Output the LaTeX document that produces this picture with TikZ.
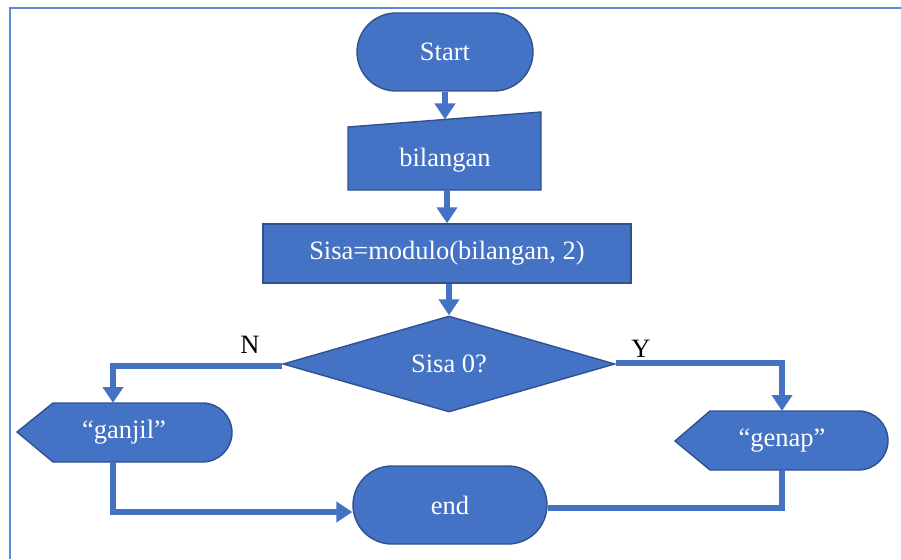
\documentclass[tikz,border=0pt]{standalone}
\usepackage{fontspec}
\setmainfont{Liberation Serif}
\usetikzlibrary{arrows.meta,shapes.misc,shapes.geometric}
\definecolor{flowfill}{HTML}{4472C4}
\definecolor{flowedge}{HTML}{2F528F}
\definecolor{framecol}{HTML}{5B8BD2}
\begin{document}
\begin{tikzpicture}[x=1pt,y=1pt,
  shapeline/.style={draw=flowedge,line width=1.4pt,fill=flowfill},
  txt/.style={text=white,font=\fontsize{26.5}{30}\selectfont,inner sep=0pt},
  lbl/.style={text=black,font=\fontsize{26.5}{30}\selectfont,inner sep=0pt},
  terminal/.style={shapeline,rounded rectangle,inner sep=0pt,txt},
  flow/.style={draw=flowfill,line width=5.5pt},
  flowarrow/.style={flow,-{Triangle[width=20pt,length=16pt]}}]
\useasboundingbox (0,0) rectangle (901,-559);
% page frame
\draw[framecol,line width=2.5pt] (10,-559) -- (10,-8) -- (901,-8);

% start terminal
\node[terminal,minimum width=176pt,minimum height=78pt] (start) at (445,-52) {Start};

% manual input
\draw[shapeline] (348,-127) -- (541,-112) -- (541,-190) -- (348,-190) -- cycle;
\node[txt] (bil) at (445,-160) {bilangan};
\coordinate (bil-top) at (445,-119.5);
\coordinate (bil-bot) at (447,-190);

% process
\node[shapeline,rectangle,minimum width=368pt,minimum height=59pt,txt] (proc) at (447,-253.5) {Sisa=modulo(bilangan, 2)};

% decision
\node[shapeline,diamond,aspect=3.46,minimum width=332pt,minimum height=96pt,txt] (dec) at (449,-364) {Sisa 0?};

% display: ganjil
\draw[shapeline] (17,-432) -- (53,-403) -- (202.5,-403) arc[start angle=90,end angle=-90,radius=29.5] -- (53,-462) -- cycle;
\node[txt] (ganjil) at (124,-432) {“ganjil”};
\coordinate (gj-top) at (113,-403);
\coordinate (gj-bot) at (113,-462);

% display: genap
\draw[shapeline] (675,-441) -- (710,-411) -- (858.5,-411) arc[start angle=90,end angle=-90,radius=29.5] -- (710,-470) -- cycle;
\node[txt] (genap) at (782,-441) {“genap”};
\coordinate (gn-top) at (782,-411);
\coordinate (gn-bot) at (782,-470);

% end terminal
\node[terminal,minimum width=194pt,minimum height=78pt] (end) at (450,-505) {end};

% connectors
\draw[flowarrow] (start.south) -- (bil-top);
\draw[flowarrow] (bil-bot) -- (bil-bot |- proc.north);
\draw[flowarrow] (proc.south -| dec.north) -- (dec.north);
\draw[flowarrow] ([yshift=-2pt]dec.west) -| (gj-top);
\draw[flowarrow] ([yshift=1pt]dec.east) -| (gn-top);
\draw[flowarrow] (gj-bot) |- ([yshift=-7pt]end.west);
\draw[flow] (gn-bot) |- ([yshift=-3pt]end.east);

% branch labels
\node[lbl] (lblN) at (250,-345) {N};
\node[lbl] (lblY) at (641,-349) {Y};
\end{tikzpicture}
\end{document}
